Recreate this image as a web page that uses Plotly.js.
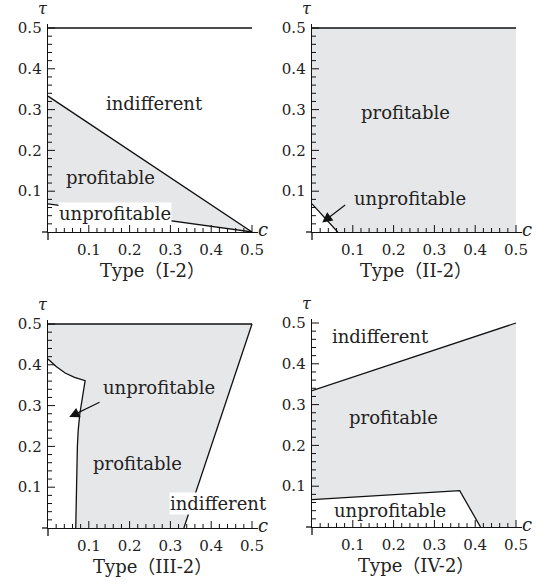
<!DOCTYPE html>
<html>
<head>
<meta charset="utf-8">
<script src="https://cdn.plot.ly/plotly-3.0.1.min.js"></script>
<style>html,body{margin:0;padding:0;background:#fff;}#chart{width:558px;height:588px;}</style>
</head>
<body>
<div id="chart"></div>
<script>
// ---------- data ----------
const tickVals = [0.1, 0.2, 0.3, 0.4, 0.5];
const tickText = ['0.1', '0.2', '0.3', '0.4', '0.5'];
const smallTickVals = [0.02, 0.04, 0.06, 0.08, 0.12, 0.14, 0.16, 0.18, 0.22, 0.24, 0.26, 0.28,
                       0.32, 0.34, 0.36, 0.38, 0.42, 0.44, 0.46, 0.48];
const panelTitles = ['Type\uFF08I-2\uFF09', 'Type\uFF08II-2\uFF09', 'Type\uFF08III-2\uFF09', 'Type\uFF08IV-2\uFF09'];

// Type (I-2)
const I_top_c = [0, 0.5];          const I_top_t = [0.5, 0.5];
const I_upper_c = [0, 0.5];        const I_upper_t = [0.333, 0];
const I_lower_c = [0, 0.25, 0.5];  const I_lower_t = [0.069, 0.035, 0];

// Type (II-2)
const II_top_c = [0, 0.5];         const II_top_t = [0.5, 0.5];
const II_line_c = [0, 0.063];      const II_line_t = [0.069, 0];
const II_region_c = [0, 0, 0.5, 0.5, 0.063];
const II_region_t = [0.069, 0.5, 0.5, 0, 0];

// Type (III-2)
const III_top_c = [0, 0.5];        const III_top_t = [0.5, 0.5];
const III_right_c = [0.333, 0.5]; const III_right_t = [0, 0.5];
const III_left_c = [0, 0.02, 0.042, 0.065, 0.091, 0.085, 0.078, 0.074, 0.072, 0.07, 0.068];
const III_left_t = [0.414, 0.396, 0.38, 0.369, 0.361, 0.32, 0.28, 0.239, 0.2, 0.1, 0];

// Type (IV-2)
const IV_upper_c = [0, 0.5];       const IV_upper_t = [0.334, 0.5];
const IV_lower_c = [0, 0.362, 0.413]; const IV_lower_t = [0.067, 0.089, 0];

// labels: [text, c, tau, whiteBg]
const labels1 = [['indifferent', 0.262, 0.315, false], ['profitable', 0.152, 0.134, false], ['unprofitable', 0.163, 0.046, true]];
const labels2 = [['profitable', 0.228, 0.292, false], ['unprofitable', 0.24, 0.083, false]];
const labels3 = [['unprofitable', 0.273, 0.345, false], ['profitable', 0.219, 0.158, false], ['indifferent', 0.417, 0.061, true]];
const labels4 = [['indifferent', 0.169, 0.468, false], ['profitable', 0.2, 0.269, false], ['unprofitable', 0.192, 0.041, false]];

// arrows: [headC, headT, tailC, tailT]
const arrow2 = [0.025, 0.023, 0.085, 0.069];
const arrow3 = [0.052, 0.272, 0.13, 0.31];

// ---------- styling ----------
const GRAY = '#e6e7e9';
const INK = '#111';
const SERIF = 'DejaVu Serif, Liberation Serif, serif';
const W = 558, H = 588;
const panels = [
  {left: 48, bottom: 232}, {left: 312, bottom: 232},
  {left: 48, bottom: 528}, {left: 312, bottom: 527}
];
const SCALE = 408;
const XMAX = 0.5147, YMAX = 0.5098;
const PW = XMAX * SCALE, PH = YMAX * SCALE;   // plot-area size in px
const BIG_TICK = 7, SMALL_TICK = 4;

function sfx(i) { return i === 0 ? '' : String(i + 1); }

const traces = [];
function fillTrace(i, c, t) {
  traces.push({type: 'scatter', mode: 'lines', x: c, y: t, fill: 'toself', fillcolor: GRAY,
    line: {width: 0, color: GRAY}, xaxis: 'x' + sfx(i), yaxis: 'y' + sfx(i), hoverinfo: 'skip', showlegend: false});
}
function lineTrace(i, c, t) {
  traces.push({type: 'scatter', mode: 'lines', x: c, y: t, line: {width: 1.3, color: INK},
    xaxis: 'x' + sfx(i), yaxis: 'y' + sfx(i), hoverinfo: 'skip', showlegend: false, cliponaxis: false});
}

fillTrace(0, I_upper_c.concat(I_lower_c.slice().reverse()), I_upper_t.concat(I_lower_t.slice().reverse()));
lineTrace(0, I_top_c, I_top_t);
lineTrace(0, I_upper_c, I_upper_t);
lineTrace(0, I_lower_c, I_lower_t);

fillTrace(1, II_region_c, II_region_t);
lineTrace(1, II_top_c, II_top_t);
lineTrace(1, II_line_c, II_line_t);

fillTrace(2,
  [0, 0.5].concat(III_right_c.slice().reverse()).concat(III_left_c.slice().reverse()),
  [0.5, 0.5].concat(III_right_t.slice().reverse()).concat(III_left_t.slice().reverse()));
lineTrace(2, III_top_c, III_top_t);
lineTrace(2, III_right_c, III_right_t);
lineTrace(2, III_left_c, III_left_t);

fillTrace(3,
  IV_upper_c.concat([0.5]).concat(IV_lower_c.slice().reverse()),
  IV_upper_t.concat([0]).concat(IV_lower_t.slice().reverse()));
lineTrace(3, IV_upper_c, IV_upper_t);
lineTrace(3, IV_lower_c, IV_lower_t);

const layout = {
  width: W, height: H, margin: {l: 0, r: 0, t: 0, b: 0},
  paper_bgcolor: '#fff', plot_bgcolor: 'rgba(0,0,0,0)',
  showlegend: false, annotations: [], shapes: [],
  font: {family: SERIF, color: '#222', size: 14}
};

function axisBase() {
  return {
    showline: true, linecolor: INK, linewidth: 1.3, mirror: false,
    showgrid: false, zeroline: false, fixedrange: true,
    ticks: '', tickmode: 'array', tickvals: tickVals, ticktext: tickText,
    tickfont: {family: SERIF, size: 15, color: '#222'}
  };
}

panels.forEach((p, i) => {
  const s = sfx(i);
  const x0 = p.left / W, x1 = (p.left + PW) / W;
  const y0 = 1 - p.bottom / H, y1 = 1 - (p.bottom - PH) / H;
  layout['xaxis' + s] = Object.assign(axisBase(), {domain: [x0, x1], range: [0, XMAX], anchor: 'y' + s, ticklabelstandoff: 4});
  layout['yaxis' + s] = Object.assign(axisBase(), {domain: [y0, y1], range: [0, YMAX], anchor: 'x' + s, ticklabelstandoff: 2});
  // tick marks pointing into the plot, placed on the axes' own scales
  [[tickVals, BIG_TICK], [smallTickVals, SMALL_TICK]].forEach(([vals, len]) => {
    vals.forEach(v => {
      layout.shapes.push({type: 'line', xref: 'x' + s, yref: 'y' + s + ' domain', x0: v, x1: v, y0: 0, y1: len / PH,
        line: {color: INK, width: 1}, layer: 'above'});
      layout.shapes.push({type: 'line', xref: 'x' + s + ' domain', yref: 'y' + s, x0: 0, x1: len / PW, y0: v, y1: v,
        line: {color: INK, width: 1}, layer: 'above'});
    });
  });
  // axis overhang
  layout.shapes.push({type: 'line', xref: 'paper', yref: 'paper', x0: (p.left - 6) / W, x1: p.left / W, y0: y0, y1: y0, line: {color: INK, width: 1.3}});
  layout.shapes.push({type: 'line', xref: 'paper', yref: 'paper', x0: x0, x1: x0, y0: 1 - (p.bottom + 8) / H, y1: y0, line: {color: INK, width: 1.3}});
  layout.annotations.push({xref: 'paper', yref: 'paper', xanchor: 'center', yanchor: 'middle', x: (p.left - 5) / W, y: 1 - (p.bottom - 224) / H, text: '<i>\u03C4</i>', showarrow: false, font: {family: SERIF, size: 16, color: '#222'}});
  layout.annotations.push({xref: 'paper', yref: 'paper', xanchor: 'center', yanchor: 'middle', x: (p.left + 215) / W, y: 1 - (p.bottom - 3) / H, text: '<i>c</i>', showarrow: false, font: {family: SERIF, size: 18, color: '#222'}});
  layout.annotations.push({xref: 'paper', yref: 'paper', xanchor: 'center', yanchor: 'middle', x: (p.left + 104) / W, y: 1 - (p.bottom + 38) / H, text: panelTitles[i], showarrow: false, font: {family: SERIF + ', Noto Sans CJK JP', size: 18, color: '#222'}});
});

[labels1, labels2, labels3, labels4].forEach((labs, i) => {
  const s = sfx(i);
  labs.forEach(l => {
    const a = {xref: 'x' + s, yref: 'y' + s, xanchor: 'center', yanchor: 'middle', x: l[1], y: l[2], text: l[0], showarrow: false,
      font: {family: SERIF, size: 18, color: '#222'}};
    if (l[3]) { a.bgcolor = '#fff'; a.borderpad = 0; }
    layout.annotations.push(a);
  });
});

function addArrow(i, a) {
  const s = sfx(i);
  layout.annotations.push({xref: 'x' + s, yref: 'y' + s, axref: 'x' + s, ayref: 'y' + s,
    x: a[0], y: a[1], ax: a[2], ay: a[3], text: '', showarrow: true,
    arrowhead: 2, arrowsize: 1.7, arrowwidth: 1.2, arrowcolor: INK, standoff: 0});
}
addArrow(1, arrow2);
addArrow(2, arrow3);

Plotly.newPlot('chart', traces, layout, {staticPlot: true, displayModeBar: false});
</script>
</body>
</html>
